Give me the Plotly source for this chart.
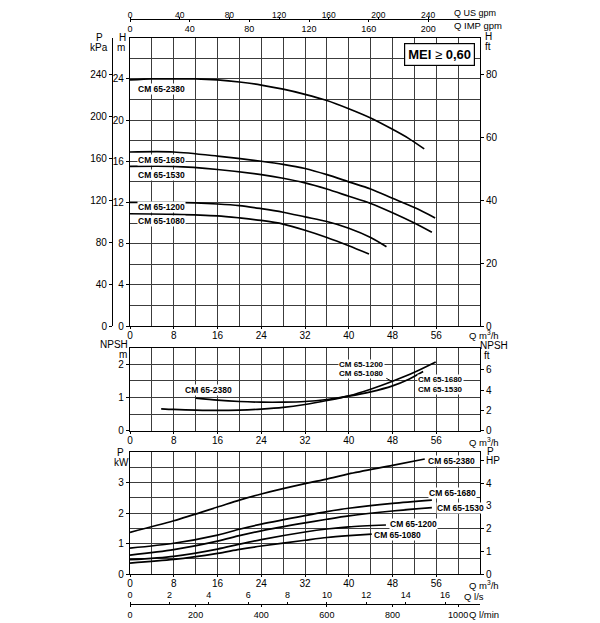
import plotly.graph_objects as go

# ---- data (Q in m3/h) ----
q_h_2380 = [0, 4, 8, 12, 16, 20, 24, 28, 32, 36, 40, 44, 48, 51, 53.8]
h_2380 = [23.9, 24.0, 24.0, 24.0, 23.9, 23.7, 23.4, 23.0, 22.5, 21.9, 21.1, 20.2, 19.1, 18.2, 17.2]
q_h_1680 = [0, 8, 16, 24, 28, 32, 36, 40, 44, 48, 52, 55.8]
h_1680 = [16.9, 16.9, 16.5, 16.0, 15.7, 15.3, 14.7, 14.0, 13.3, 12.4, 11.5, 10.5]
q_h_1530 = [0, 8, 16, 24, 28, 32, 36, 40, 44, 48, 52, 55.2]
h_1530 = [15.5, 15.5, 15.2, 14.7, 14.35, 13.9, 13.3, 12.6, 11.9, 11.0, 10.0, 9.1]
q_h_1200 = [0, 8, 16, 20, 24, 28, 32, 36, 40, 44, 46.9]
h_1200 = [12.0, 12.0, 11.85, 11.7, 11.4, 11.05, 10.6, 10.15, 9.5, 8.6, 7.7]
q_h_1080 = [0, 8, 16, 20, 24, 28, 32, 36, 40, 43.7]
h_1080 = [10.9, 10.85, 10.7, 10.5, 10.25, 9.9, 9.3, 8.6, 7.8, 7.0]

q_npsh_a = [12, 16, 20, 24, 28, 32, 36, 40, 44, 48, 51, 53.6]
npsh_a = [0.98, 0.92, 0.88, 0.86, 0.86, 0.88, 0.94, 1.04, 1.17, 1.35, 1.55, 1.78]
q_npsh_b = [5.7, 8, 12, 16, 20, 24, 28, 32, 36, 40, 44, 48, 52, 55.9]
npsh_b = [0.66, 0.64, 0.62, 0.61, 0.62, 0.65, 0.70, 0.79, 0.91, 1.05, 1.25, 1.49, 1.76, 2.07]

q_p_2380 = [0, 8, 16, 20, 24, 32, 36, 40, 48, 53.9]
p_2380 = [1.37, 1.75, 2.20, 2.43, 2.63, 2.97, 3.12, 3.29, 3.57, 3.78]
q_p_1680 = [0, 8, 16, 20, 24, 32, 36, 40, 48, 55.2]
p_1680 = [0.85, 1.01, 1.28, 1.47, 1.64, 1.92, 2.05, 2.16, 2.32, 2.43]
q_p_1530 = [0, 8, 16, 20, 24, 32, 36, 40, 48, 55.2]
p_1530 = [0.62, 0.80, 1.08, 1.26, 1.42, 1.68, 1.80, 1.91, 2.07, 2.18]
q_p_1200 = [0, 8, 16, 20, 24, 32, 36, 40, 46.8]
p_1200 = [0.47, 0.58, 0.82, 0.98, 1.13, 1.38, 1.48, 1.55, 1.61]
q_p_1080 = [0, 8, 16, 20, 24, 32, 36, 40, 44.2]
p_1080 = [0.36, 0.48, 0.68, 0.81, 0.92, 1.11, 1.20, 1.26, 1.31]

q_ticks = [0, 8, 16, 24, 32, 40, 48, 56]
h_m_ticks = [0, 4, 8, 12, 16, 20, 24]
h_kpa_ticks = [0, 40, 80, 120, 160, 200, 240]
h_ft_ticks = [0, 20, 40, 60, 80]
npsh_m_ticks = [0, 1, 2]
npsh_ft_ticks = [0, 2, 4, 6]
p_kw_ticks = [0, 1, 2, 3]
p_hp_ticks = [0, 1, 2, 3, 4, 5]
p_hp_text = ["0", "1", "2", "3", "4", "HP"]
usgpm_ticks = [0, 40, 80, 120, 160, 200, 240]
impgpm_ticks = [0, 40, 80, 120, 160, 200]
ls_ticks = [0, 2, 4, 6, 8, 10, 12, 14, 16]
lmin_ticks = [0, 200, 400, 600, 800, 1000]

QMAX = 64
FONT = "Liberation Sans Narrow, Arial Narrow, Liberation Sans, Arial"
GRID = "#3c3c3c"
OFF = 8  # page body margin of the html page

# page geometry helpers (page pixels -> paper)
def fx(p):
    return (p - 20) / 560.0

def fy(p):
    return (604 - p) / 589.0

XDOM = [fx(130), fx(480)]
D_MAIN = [fy(326), fy(37.7)]
D_NPSH = [fy(430.7), fy(347.7)]
D_POW = [fy(574), fy(452.3)]

fig = go.Figure()

def curve(x, y, xa, ya):
    fig.add_trace(go.Scatter(x=x, y=y, xaxis=xa, yaxis=ya, mode="lines",
                             line=dict(color="black", width=1.7, shape="spline", smoothing=0.8),
                             hoverinfo="skip", showlegend=False))

for q, h in [(q_h_2380, h_2380), (q_h_1680, h_1680), (q_h_1530, h_1530),
             (q_h_1200, h_1200), (q_h_1080, h_1080)]:
    curve(q, h, "x", "y")
curve(q_npsh_a, npsh_a, "x2", "y4")
curve(q_npsh_b, npsh_b, "x2", "y4")
for q, p in [(q_p_2380, p_2380), (q_p_1680, p_1680), (q_p_1530, p_1530),
             (q_p_1200, p_1200), (q_p_1080, p_1080)]:
    curve(q, p, "x3", "y6")

# empty traces so that the secondary unit axes get drawn
for xa, ya in [("x", "y2"), ("x", "y3"), ("x2", "y5"), ("x3", "y7"),
               ("x4", "y"), ("x5", "y"), ("x6", "y6"), ("x7", "y6")]:
    fig.add_trace(go.Scatter(x=[], y=[], xaxis=xa, yaxis=ya, mode="lines",
                             hoverinfo="skip", showlegend=False))

tickfont = dict(family=FONT, size=10, color="black")
smallfont = dict(family=FONT, size=9, color="black")

def xmain(anchor):
    return dict(domain=XDOM, range=[0, QMAX], anchor=anchor, tickvals=q_ticks,
                showgrid=True, gridcolor=GRID, gridwidth=1, zeroline=False,
                minor=dict(dtick=4, tick0=0, showgrid=True, gridcolor=GRID, gridwidth=1),
                showline=True, linecolor="black", linewidth=1.3, mirror=True,
                ticks="outside", ticklen=2, tickcolor="black", tickfont=tickfont,
                automargin=False, ticklabelstandoff=-2)

def yleft(dom, rng, vals, minor, anchor):
    return dict(domain=dom, range=rng, anchor=anchor, tickvals=vals,
                showgrid=True, gridcolor=GRID, gridwidth=1, zeroline=False,
                minor=dict(dtick=minor, tick0=0, showgrid=True, gridcolor=GRID, gridwidth=1),
                showline=True, linecolor="black", linewidth=1.3, mirror=True,
                ticks="outside", ticklen=3, tickcolor="black", tickfont=tickfont,
                automargin=False)

def yover(over, rng, vals, side="right", anchor=None, pos=None, text=None):
    d = dict(overlaying=over, range=rng, side=side, tickvals=vals, showgrid=False,
             zeroline=False, ticks="outside", ticklen=3, tickcolor="black",
             showline=True, linecolor="black", linewidth=1.1, tickfont=tickfont,
             automargin=False)
    if text is not None:
        d["ticktext"] = text
    if pos is not None:
        d["anchor"] = "free"
        d["position"] = pos
    else:
        d["anchor"] = anchor
    return d

def xextra(over, rng, vals, side, pos, standoff=0, font=smallfont):
    return dict(overlaying=over, range=rng, side=side, anchor="free", position=pos,
                tickvals=vals, showgrid=False, zeroline=False, ticks="outside",
                ticklen=2, tickcolor="black", showline=True, linecolor="black",
                linewidth=1.1, tickfont=font, automargin=False,
                ticklabelstandoff=standoff)

fig.update_layout(
    width=600 - OFF, height=623 - OFF,
    margin=dict(l=20 - OFF, r=20, t=15 - OFF, b=19, autoexpand=False),
    paper_bgcolor="white", plot_bgcolor="white",
    font=dict(family=FONT, size=10, color="black"),
    showlegend=False,
    xaxis=xmain("y"),
    yaxis=yleft(D_MAIN, [0, 28], h_m_ticks, 2, "x"),
    yaxis2=yover("y", [0, 28 * 9.81], h_kpa_ticks, side="left", pos=fx(112)),
    yaxis3=yover("y", [0, 28 * 3.2808], h_ft_ticks, anchor="x"),
    xaxis2=xmain("y4"),
    yaxis4=yleft(D_NPSH, [0, 2.5], npsh_m_ticks, 0.5, "x2"),
    yaxis5=yover("y4", [0, 2.5 * 3.2808], npsh_ft_ticks, anchor="x2"),
    xaxis3=xmain("y6"),
    yaxis6=yleft(D_POW, [0, 4], p_kw_ticks, 0.5, "x3"),
    yaxis7=yover("y6", [0, 4 * 1.341], p_hp_ticks, anchor="x3", text=p_hp_text),
    xaxis4=xextra("x", [0, QMAX / 0.227125], usgpm_ticks, "top", fy(19), -4,
                  dict(family=FONT, size=8.5, color="black")),
    xaxis5=xextra("x", [0, QMAX / 0.272765], impgpm_ticks, "bottom", fy(19), -1),
    xaxis6=xextra("x3", [0, QMAX / 3.6], ls_ticks, "top", 0.0),
    xaxis7=xextra("x3", [0, QMAX / 0.06], lmin_ticks, "bottom", 0.0),
)

ann = []

def text(t, x, y, xanchor="center", size=10, **kw):
    ann.append(dict(text=t, x=fx(x), y=fy(y), xref="paper", yref="paper",
                    xanchor=xanchor, yanchor="middle", showarrow=False,
                    font=dict(family=FONT, size=size, color="black"), **kw))

# axis titles
text("P", 99, 37)
text("kPa", 99, 47.5)
text("H", 122, 37)
text("m", 121, 47.5)
text("H", 488, 36)
text("ft", 488, 46)
text("NPSH", 114, 344.5)
text("m", 123, 354.5)
text("NPSH", 494, 345.5)
text("ft", 487, 355.5)
text("P", 120, 452.5)
text("kW", 121, 462.5)
text("P", 490, 451.5)
text("Q US gpm", 452, 13.5, xanchor="left", size=9)
text("Q IMP gpm", 452, 26, xanchor="left", size=9.5)
text("Q m<sup>3</sup>/h", 467, 335, xanchor="left", size=9.5)
text("Q m<sup>3</sup>/h", 467, 441.5, xanchor="left", size=9.5)
text("Q m<sup>3</sup>/h", 467, 584.5, xanchor="left", size=9.5)
text("Q l/s", 462, 596, xanchor="left", size=9.5)
text("Q l/min", 467, 614, xanchor="left", size=9.5)

# MEI box
ann.append(dict(text="<b>MEI</b> <span style='font-weight:normal'>≥</span> <b>0,60</b>",
                x=56.6, y=26.4, xref="x", yref="y", showarrow=False,
                font=dict(family=FONT, size=13, color="black"),
                bgcolor="white", bordercolor="black", borderwidth=1.2, borderpad=3))

def label(t, x, y, xr, yr, xanchor="left", size=8.5):
    ann.append(dict(text="<b>" + t + "</b>", x=x, y=y, xref=xr, yref=yr,
                    xanchor=xanchor, yanchor="middle", showarrow=False,
                    bgcolor="white", borderpad=0,
                    font=dict(family=FONT, size=size, color="black")))

# head chart labels
label("CM 65-2380", 1.3, 23.0, "x", "y")
label("CM 65-1680", 1.3, 16.15, "x", "y")
label("CM 65-1530", 1.3, 14.66, "x", "y")
label("CM 65-1200", 1.3, 11.55, "x", "y")
label("CM 65-1080", 1.3, 10.15, "x", "y")

# NPSH labels
label("CM 65-2380", 14.4, 1.23, "x2", "y4", "center")
label("CM 65-1200", 42.4, 2.0, "x2", "y4", "center", 8)
label("CM 65-1080", 42.4, 1.71, "x2", "y4", "center", 8)
label("CM 65-1680", 56.8, 1.53, "x2", "y4", "center", 8)
label("CM 65-1530", 56.8, 1.24, "x2", "y4", "center", 8)
ann.append(dict(text="", x=48.1, y=1.47, xref="x2", yref="y4", ax=46.6, ay=1.60,
                axref="x2", ayref="y4", showarrow=True, arrowhead=0, arrowwidth=1,
                arrowcolor="black"))

# power labels
label("CM 65-2380", 54.3, 3.71, "x3", "y6")
label("CM 65-1680", 54.5, 2.67, "x3", "y6")
label("CM 65-1530", 56.0, 2.16, "x3", "y6")
label("CM 65-1200", 47.3, 1.63, "x3", "y6")
label("CM 65-1080", 44.4, 1.28, "x3", "y6")

fig.update_layout(annotations=ann)

fig.write_html("out.html")
